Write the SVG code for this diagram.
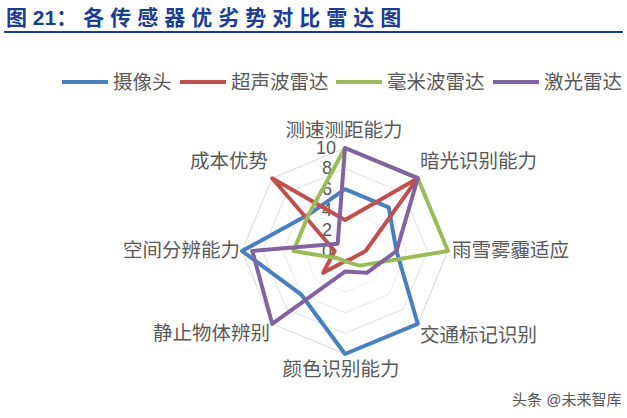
<svg xmlns="http://www.w3.org/2000/svg" width="627" height="418" viewBox="0 0 627 418">
<style>
text{font-family:"Liberation Sans","Noto Sans CJK SC",sans-serif;fill:#595959}
.lab{font-size:19.5px}
.tick{font-size:18px;text-anchor:end}
.grid{fill:none;stroke:#d9d9d9;stroke-width:1}
.s{fill:none;stroke-width:4;stroke-linejoin:round}
</style>
<rect width="627" height="418" fill="#fff"/>
<text x="6" y="25" style="font-size:21px;font-weight:bold;fill:#1a3d8f;font-family:'Liberation Sans','Noto Sans CJK SC',sans-serif">图 21<tspan style="letter-spacing:6px">：各传感器优劣势对比雷达图</tspan></text>
<rect x="4" y="31" width="619" height="2" fill="#1a3d8f"/>
<g id="legend">
<line x1="62" y1="82" x2="108" y2="82" stroke="#4a7fbf" stroke-width="4"/><text class="lab" x="113" y="89">摄像头</text>
<line x1="180" y1="82" x2="226" y2="82" stroke="#c0504d" stroke-width="4"/><text class="lab" x="231" y="89">超声波雷达</text>
<line x1="336" y1="82" x2="382" y2="82" stroke="#9bbb59" stroke-width="4"/><text class="lab" x="387" y="89">毫米波雷达</text>
<line x1="493" y1="82" x2="539" y2="82" stroke="#8064a2" stroke-width="4"/><text class="lab" x="544" y="89">激光雷达</text>
</g>
<g id="grid">
<defs><polygon id="oct" points="0,-103 72.8,-72.8 103,0 72.8,72.8 0,103 -72.8,72.8 -103,0 -72.8,-72.8"/></defs>
<use href="#oct" class="grid" transform="translate(345,251) scale(0.2)"/>
<use href="#oct" class="grid" transform="translate(345,251) scale(0.4)"/>
<use href="#oct" class="grid" transform="translate(345,251) scale(0.6)"/>
<use href="#oct" class="grid" transform="translate(345,251) scale(0.8)"/>
<use href="#oct" class="grid" transform="translate(345,251)"/>
</g>
<g id="ticks">
<text class="tick" x="332" y="257">0</text>
<text class="tick" x="332" y="236">2</text>
<text class="tick" x="332" y="216">4</text>
<text class="tick" x="332" y="195">6</text>
<text class="tick" x="332" y="174">8</text>
<text class="tick" x="336" y="154">10</text>
</g>
<g id="axis-labels">
<text class="lab" x="344" y="137" text-anchor="middle">测速测距能力</text>
<text class="lab" x="420" y="168">暗光识别能力</text>
<text class="lab" x="452" y="257">雨雪雾霾适应</text>
<text class="lab" x="420" y="342">交通标记识别</text>
<text class="lab" x="341" y="376" text-anchor="middle">颜色识别能力</text>
<text class="lab" x="270" y="340" text-anchor="end">静止物体辨别</text>
<text class="lab" x="240" y="257" text-anchor="end">空间分辨能力</text>
<text class="lab" x="268" y="168" text-anchor="end">成本优势</text>
</g>
<g id="connectors">
<polygon id="camera" class="s" stroke="#4a7fbf" points="345,189.2 388.7,207.3 396.5,251 417.8,323.8 345,354 301.3,294.7 242,251 308.6,214.6"/>
<polygon id="ultrasonic" class="s" stroke="#c0504d" points="345,220.1 417.8,178.2 365.6,251 352.3,258.3 345,261.3 323.2,272.8 334.7,251 272.2,178.2"/>
<polygon id="mmwave" class="s" stroke="#9bbb59" points="345,148 417.8,178.2 448,251 359.6,265.6 345,261.3 337.7,258.3 293.5,251 308.6,214.6"/>
<polygon id="lidar" class="s" stroke="#8064a2" points="345,148 417.8,178.2 396.5,251 366.8,272.8 345,271.6 272.2,323.8 252.3,251 337.7,243.7"/>
</g>
<text x="512" y="405" style="font-size:15px;fill:#555">头条 @未来智库</text>
</svg>
